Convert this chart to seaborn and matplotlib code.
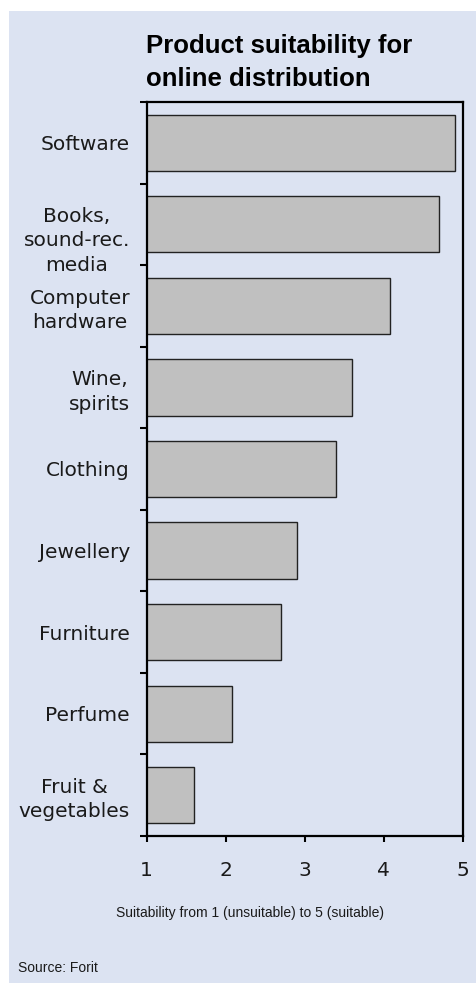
import matplotlib
matplotlib.use("Agg")
import matplotlib.pyplot as plt
import matplotlib.transforms as mtransforms
import seaborn as sns
import pandas as pd
import numpy as np
from matplotlib.patches import Rectangle
from matplotlib.ticker import FixedLocator

categories = ["Software", "Books,\nsound-rec.\nmedia", "Computer\nhardware", "Wine,\nspirits",
              "Clothing", "Jewellery", "Furniture", "Perfume", "Fruit &\nvegetables"]
scores = [4.9, 4.7, 4.08, 3.6, 3.4, 2.9, 2.7, 2.08, 1.6]
x_ticks = [1, 2, 3, 4, 5]
title = "Product suitability for\nonline distribution"
xlabel = "Suitability from 1 (unsuitable) to 5 (suitable)"
source = "Source: Forit"

df = pd.DataFrame({"category": categories, "score": scores})

sns.set_theme(style="white")
plt.rcParams['font.family'] = ['DejaVu Sans']

W, H = 477, 983
fig = plt.figure(figsize=(W / 100, H / 100), dpi=100, facecolor="white")
bg = "#dce3f2"
fig.patches.append(Rectangle((9 / W, 0), 1 - 9 / W, 1 - 11 / H, transform=fig.transFigure,
                             facecolor=bg, edgecolor="none", zorder=-10))

ax = fig.add_axes([146.7 / W, 1 - 836 / H, (462.7 - 146.7) / W, (836 - 102) / H])
ax.set_facecolor(bg)

sns.barplot(data=df, x="score", y="category", orient="h", color="#c0c0c0",
            saturation=1, width=0.69, edgecolor="#222222", linewidth=1.0, ax=ax)

ax.set_xlim(1, 5)
ax.set_ylim(len(categories) - 0.5, -0.5)
ax.set_xticks(x_ticks)
ax.set_xticklabels([str(t) for t in x_ticks], fontsize=14.5, color="#1a1a1a")
ax.set_xlabel("")
ax.set_ylabel("")

ax.yaxis.set_minor_locator(FixedLocator(np.arange(-0.5, len(categories), 1.0)))
ax.tick_params(axis="y", which="major", length=0, pad=12)
ax.tick_params(axis="y", which="minor", length=5, width=1.5, color="black", left=True)
ax.tick_params(axis="x", which="major", length=4, width=1.5, color="black", pad=14, bottom=True)
for lbl in ax.get_yticklabels():
    lbl.set_fontsize(14.5)
    lbl.set_multialignment("center")
    lbl.set_linespacing(1.35)
    lbl.set_color("#1a1a1a")

# the three-line "Books" label sits a little lower in the original
books_lbl = ax.get_yticklabels()[1]
books_lbl.set_transform(books_lbl.get_transform() +
                        mtransforms.ScaledTranslation(0, -12 / 100, fig.dpi_scale_trans))

for s in ax.spines.values():
    s.set_visible(True)
    s.set_color("black")
    s.set_linewidth(1.6)

fig.text(146 / W, 1 - 34 / H, title, fontsize=18.5, fontweight="bold", family="Liberation Sans",
         ha="left", va="top", linespacing=1.45, color="black")
fig.text(250 / W, 1 - 913 / H, xlabel, fontsize=10, family="Liberation Sans",
         ha="center", va="center", color="#1a1a1a")
fig.text(18 / W, 1 - 968 / H, source, fontsize=10, family="Liberation Sans",
         ha="left", va="center", color="#1a1a1a")

fig.savefig("out.png", dpi=100, facecolor="white")
